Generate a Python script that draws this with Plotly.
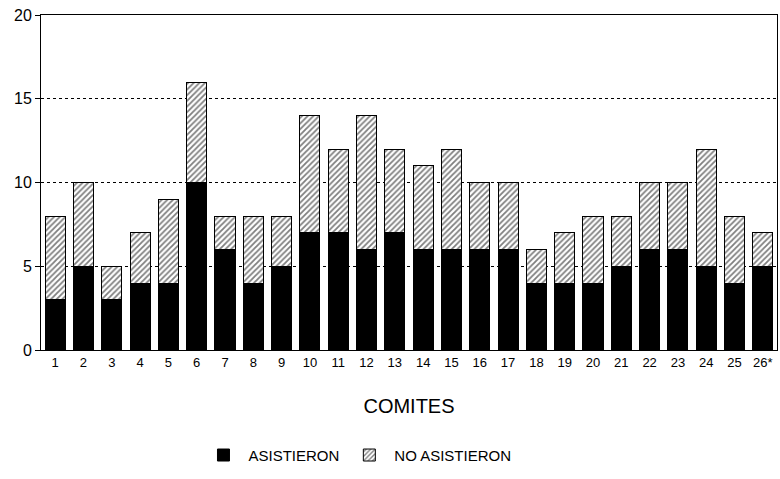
import plotly.graph_objects as go

comites = [str(i) for i in range(1, 26)] + ["26*"]
asistieron = [3, 5, 3, 4, 4, 10, 6, 4, 5, 7, 7, 6, 7, 6, 6, 6, 6, 4, 4, 4, 5, 6, 6, 5, 4, 5]
totales = [8, 10, 5, 7, 9, 16, 8, 8, 8, 14, 12, 14, 12, 11, 12, 10, 10, 6, 7, 8, 8, 10, 10, 12, 8, 7]
no_asistieron = [t - a for t, a in zip(totales, asistieron)]

FONT = "Liberation Sans Narrow, Liberation Sans, Arial, sans-serif"

fig = go.Figure()
fig.add_trace(go.Bar(
    x=comites, y=asistieron, name="ASISTIERON",
    marker=dict(color="black", line=dict(color="black", width=1)),
))
fig.add_trace(go.Bar(
    x=comites, y=no_asistieron, name="NO ASISTIERON",
    marker=dict(color="white", line=dict(color="black", width=1),
                pattern=dict(shape="/", fgcolor="black", bgcolor="white",
                             size=4, solidity=0.45)),
))

fig.update_layout(
    barmode="stack",
    bargap=0.29,
    width=780, height=479,
    margin=dict(l=41, r=3, t=15, b=129),
    paper_bgcolor="white", plot_bgcolor="white",
    font=dict(family=FONT, color="black"),
    showlegend=True,
    legend=dict(orientation="h", x=0.43, xanchor="center", y=-0.265, yanchor="top",
                font=dict(size=15, family=FONT), traceorder="normal",
                itemwidth=40),
)
fig.update_xaxes(
    type="category",
    title=dict(text="COMITES", font=dict(size=20, family=FONT), standoff=30),
    tickfont=dict(size=13, family=FONT),
    showline=True, linecolor="black", linewidth=1, mirror=True,
    ticks="", showgrid=False,
)
fig.update_yaxes(
    range=[0, 20], tickvals=[0, 5, 10, 15, 20],
    tickfont=dict(size=16, family=FONT),
    showline=True, linecolor="black", linewidth=1, mirror=True,
    ticks="outside", ticklen=5, tickcolor="black",
    showgrid=True, gridcolor="black", gridwidth=1, griddash="dot",
    zeroline=False,
)

fig.write_html("out.html", config={"displayModeBar": False})

with open("out.html", "r", encoding="utf-8") as f:
    html = f.read()
html = html.replace("<head>", "<head><style>html,body{margin:0;padding:0;overflow:hidden;}</style>", 1)
with open("out.html", "w", encoding="utf-8") as f:
    f.write(html)
